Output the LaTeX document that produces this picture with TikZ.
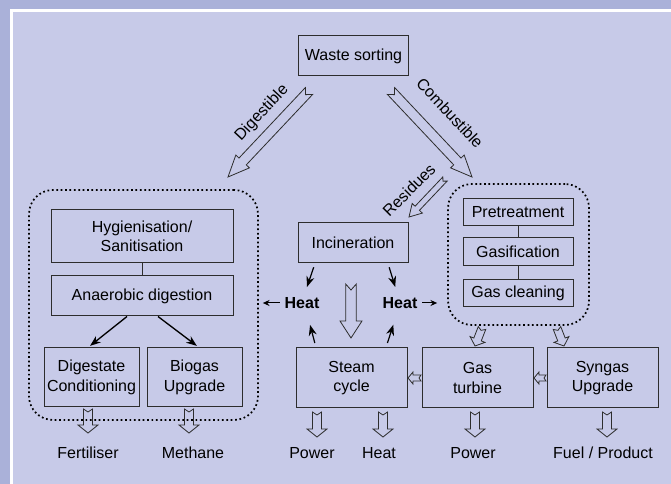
\documentclass[tikz,border=0pt]{standalone}
\usepackage{fontspec}
\setmainfont{Liberation Sans}
\usetikzlibrary{calc,arrows.meta}

\definecolor{framecol}{RGB}{170,177,217}
\definecolor{panelcol}{RGB}{199,202,232}
\definecolor{linecol}{RGB}{45,45,45}

% hollow arrow: from, to, shaft half width, head half width, head length, notch
\newcommand{\fatarrow}[6]{%
  \coordinate (fa-h) at ($(#2)!#5!(#1)$);
  \draw[fatline] ($(#1)!#3!90:(#2)$) -- ($(fa-h)!#3!90:(#2)$) -- ($(fa-h)!#4!90:(#2)$)
    -- (#2) -- ($(fa-h)!#4!-90:(#2)$) -- ($(fa-h)!#3!-90:(#2)$) -- ($(#1)!#3!-90:(#2)$)
    -- ($(#1)!#6!(#2)$) -- cycle;
}

\tikzset{
  box/.style={draw=linecol, line width=0.75pt, inner sep=0pt, align=center,
    font=\fontsize{12}{14.5}\selectfont},
  group/.style={draw=black, dotted, line width=1.3pt, rounded corners=18pt,
    inner sep=0pt},
  fatline/.style={draw=linecol, line width=0.6pt, line join=miter},
  blackarrow/.style={draw=black, line width=1pt, -{Stealth[length=8pt,width=6pt]}},
  smallarrow/.style={draw=black, line width=0.75pt, -{Stealth[length=5pt,width=4.5pt]}},
  heatlabel/.style={font=\fontsize{12}{14.5}\selectfont\bfseries},
  outtext/.style={font=\fontsize{12}{14.5}\selectfont},
  arrowlab/.style={font=\fontsize{12}{14.5}\selectfont}
}

\begin{document}
\begin{tikzpicture}[x=0.75pt,y=-0.75pt]
\useasboundingbox (0,0) rectangle (671,484);

% A. Frame and panel
\fill[framecol] (0,0) rectangle (671,484);
\fill[white] (10,9) rectangle (671,484);
\fill[panelcol] (13,12) rectangle (671,484);

% B. Dotted groups
\node[group, minimum width=171.75pt, minimum height=172.5pt] (lgroup) at (143.5,305) {};
\node[group, minimum width=105.75pt, minimum height=105.75pt] (rgroup) at (518.5,254.5) {};

% C. Process boxes
\node[box, minimum width=82.5pt, minimum height=30pt] (waste) at (353.5,56) {Waste sorting};
\node[box, minimum width=136.5pt, minimum height=39.75pt] (hyg) at (142,236.5) {Hygienisation/\\Sanitisation};
\node[box, minimum width=136.5pt, minimum height=30pt] (anaer) at (142,296) {Anaerobic digestion};
\node[box, minimum width=71.25pt, minimum height=44.25pt] (digest) at (91.5,377.5) {Digestate\\Conditioning};
\node[box, minimum width=71.25pt, minimum height=44.25pt] (biogas) at (194.5,377.5) {Biogas\\Upgrade};
\node[box, minimum width=82.5pt, minimum height=30pt] (incin) at (353,243) {Incineration};
\node[box, minimum width=82.5pt, minimum height=20.25pt] (pretr) at (518,212.5) {Pretreatment};
\node[box, minimum width=82.5pt, minimum height=21pt] (gasif) at (518,252) {Gasification};
\node[box, minimum width=82.5pt, minimum height=20.25pt] (gascl) at (518,293.5) {Gas cleaning};
\node[box, minimum width=83.25pt, minimum height=45pt] (steam) at (351.5,378) {Steam\\cycle};
\node[box, minimum width=83.25pt, minimum height=45pt] (gasturb) at (477.5,378) {Gas\\turbine};
\node[box, minimum width=83.25pt, minimum height=45pt] (syngas) at (602.5,378) {Syngas\\Upgrade};

% D. Heat labels and outputs
\node[heatlabel] (heatL) at (302,303) {Heat};
\node[heatlabel] (heatR) at (400,303) {Heat};
\node[outtext] (fert) at (88,453) {Fertiliser};
\node[outtext] (meth) at (193,453) {Methane};
\node[outtext] (pow1) at (312,453) {Power};
\node[outtext] (heatout) at (379,453) {Heat};
\node[outtext] (pow2) at (473,453) {Power};
\node[outtext] (fuel) at (603,453) {Fuel / Product};

% E. Links inside the groups
\draw[linecol, line width=0.75pt] (hyg.south) -- (anaer.north);
\draw[linecol, line width=0.75pt] (pretr.south) -- (gasif.north);
\draw[linecol, line width=0.75pt] (gasif.south) -- (gascl.north);

% F. Black arrows
\draw[blackarrow, shorten >=2pt] ($(anaer.south)+(-15,0)$) -- ($(digest.north)+(-3.5,0)$);
\draw[blackarrow, shorten >=2pt] ($(anaer.south)+(16,0)$) -- ($(biogas.north)+(4.5,0)$);
\draw[blackarrow, line width=0.9pt, shorten <=3pt, shorten >=4.5pt] ($(incin.south)+(-38,0)$) -- ($(heatL.north)+(3,0)$);
\draw[blackarrow, line width=0.9pt, shorten <=3pt, shorten >=4.5pt] ($(incin.south)+(35,0)$) -- ($(heatR.north)+(-3,0)$);
\draw[blackarrow, line width=0.9pt, shorten <=3.5pt, shorten >=9pt] ($(steam.north)+(-35.5,0)$) -- ($(heatL.south)+(5,0)$);
\draw[blackarrow, line width=0.9pt, shorten <=3.5pt, shorten >=9pt] ($(steam.north)+(34.5,0)$) -- ($(heatR.south)+(-3,0)$);
\draw[smallarrow, shorten >=3pt] (heatL.west) -- (heatL.west -| lgroup.east);
\draw[smallarrow, shorten >=7.5pt] (heatR.east) -- (heatR.east -| rgroup.west);

% G. Hollow arrows
\coordinate (dig-a) at (309,91);   \coordinate (dig-b) at (228,177);
\coordinate (comb-a) at (391,91);  \coordinate (comb-b) at (472,177);
\coordinate (res-a) at (445,179);  \coordinate (res-b) at (409,217);
\coordinate (inc-a) at (351,284);  \coordinate (inc-b) at (351,338);
\fatarrow{dig-a}{dig-b}{3.75pt}{7pt}{16pt}{3.75pt}
\fatarrow{comb-a}{comb-b}{3.75pt}{7pt}{16pt}{3.75pt}
\fatarrow{res-a}{res-b}{2.25pt}{5.25pt}{9pt}{2.25pt}
\fatarrow{inc-a}{inc-b}{4pt}{8.25pt}{12.75pt}{4.5pt}

\coordinate (gt-a) at (421,378);  \coordinate (gt-b) at (408,378);
\coordinate (sg-a) at (546,378);  \coordinate (sg-b) at (534,378);
\fatarrow{gt-a}{gt-b}{2.25pt}{4.5pt}{3.75pt}{1.5pt}
\fatarrow{sg-a}{sg-b}{2.25pt}{4.5pt}{3.75pt}{1.5pt}

\coordinate (gx-a) at (482,328);  \coordinate (gx-b) at (475,346);
\coordinate (sx-a) at (557,328);  \coordinate (sx-b) at (564,346);
\fatarrow{gx-a}{gx-b}{3pt}{6pt}{5.25pt}{1.9pt}
\fatarrow{sx-a}{sx-b}{3pt}{6pt}{5.25pt}{1.9pt}

\foreach \nm/\xa/\ya/\yb in {fe/88/409/433, me/189/409/433, p1/317/412/437,
    ht/383/412/437, p2/475/412/437, fu/607/412/437}{
  \coordinate (\nm-a) at (\xa,\ya);  \coordinate (\nm-b) at (\xa,\yb);
  \fatarrow{\nm-a}{\nm-b}{3.4pt}{7.5pt}{6pt}{2.25pt}
}

% H. Arrow labels
\node[arrowlab, rotate=47] (diglab) at (262,113) {Digestible};
\node[arrowlab, rotate=-47] (comblab) at (450,113) {Combustible};
\node[arrowlab, rotate=45] (reslab) at (409,190) {Residues};

\end{tikzpicture}
\end{document}
